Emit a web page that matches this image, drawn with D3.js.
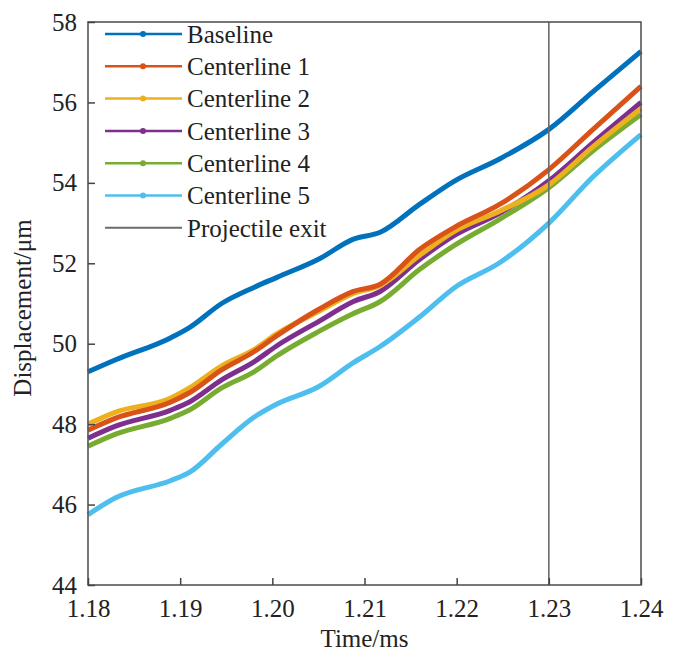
<!DOCTYPE html>
<html>
<head>
<meta charset="utf-8">
<script src="https://cdn.jsdelivr.net/npm/d3@7"></script>
<style>
  body { margin: 0; background: #fff; }
  text { font-family: "Liberation Serif", "Times New Roman", serif; fill: #222; }
</style>
</head>
<body>
<div id="chart"></div>
<script>
// time samples (ms)
const time = [1.18, 1.183, 1.189, 1.191, 1.1945, 1.198, 1.2005, 1.205, 1.2088, 1.2117, 1.216, 1.2198, 1.2247, 1.23, 1.2348, 1.24];

const baseline = [49.3, 49.6, 50.15, 50.4, 51.0, 51.4, 51.65, 52.1, 52.6, 52.77, 53.47, 54.05, 54.6, 55.33, 56.27, 57.27];
const centerline1 = [47.85, 48.15, 48.55, 48.78, 49.35, 49.8, 50.2, 50.85, 51.3, 51.48, 52.35, 52.9, 53.47, 54.33, 55.33, 56.4];
const centerline2 = [48.0, 48.3, 48.65, 48.9, 49.45, 49.85, 50.25, 50.8, 51.25, 51.45, 52.2, 52.8, 53.3, 53.95, 54.9, 55.85];
const centerline3 = [47.65, 47.95, 48.35, 48.55, 49.1, 49.55, 49.95, 50.55, 51.05, 51.3, 52.1, 52.7, 53.25, 54.05, 55.0, 56.0];
const centerline4 = [47.45, 47.75, 48.15, 48.35, 48.9, 49.3, 49.7, 50.3, 50.75, 51.05, 51.85, 52.45, 53.1, 53.88, 54.8, 55.7];
const centerline5 = [45.75, 46.17, 46.6, 46.8, 47.5, 48.17, 48.5, 48.93, 49.53, 49.93, 50.67, 51.4, 52.02, 53.0, 54.15, 55.2];

const names = ["Baseline", "Centerline 1", "Centerline 2", "Centerline 3", "Centerline 4", "Centerline 5"];
const colors = ["#0072BD", "#D95319", "#EDB120", "#7E2F8E", "#77AC30", "#4DBEEE"];
const seriesValues = [baseline, centerline1, centerline2, centerline3, centerline4, centerline5];

const exitTime = 1.23;
const exitLabel = "Projectile exit";

const xTicks = [1.18, 1.19, 1.20, 1.21, 1.22, 1.23, 1.24];
const yTicks = [44, 46, 48, 50, 52, 54, 56, 58];

const width = 673, height = 653;
const plotL = 88, plotR = 641, plotT = 22, plotB = 585;

const svg = d3.select("#chart").append("svg")
  .attr("width", width)
  .attr("height", height);

const x = d3.scaleLinear().domain([1.18, 1.24]).range([plotL, plotR]);
const y = d3.scaleLinear().domain([44, 58]).range([plotB, plotT]);

// series lines, bottom-most first
const line = d3.line()
  .x((d, i) => x(time[i]))
  .y(d => y(d))
  .curve(d3.curveMonotoneX);

const drawOrder = [5, 4, 3, 2, 1, 0];
drawOrder.forEach(k => {
  svg.append("path")
    .datum(seriesValues[k])
    .attr("fill", "none")
    .attr("stroke", colors[k])
    .attr("stroke-width", 5)
    .attr("stroke-linejoin", "round")
    .attr("d", line);
});

// projectile exit line
svg.append("line")
  .attr("x1", x(exitTime)).attr("x2", x(exitTime))
  .attr("y1", plotT).attr("y2", plotB)
  .attr("stroke", "#6b6b6b")
  .attr("stroke-width", 1.6);

// box
svg.append("rect")
  .attr("x", plotL).attr("y", plotT)
  .attr("width", plotR - plotL).attr("height", plotB - plotT)
  .attr("fill", "none")
  .attr("stroke", "#555")
  .attr("stroke-width", 1.6);

// axes, ticks pointing inside
const xAxis = svg.append("g")
  .attr("transform", `translate(0,${plotB})`)
  .call(d3.axisBottom(x).tickValues(xTicks).tickSizeInner(-7).tickSizeOuter(0)
    .tickFormat(d3.format(".2f")));
xAxis.select(".domain").remove();
xAxis.selectAll("line").attr("stroke", "#444").attr("stroke-width", 1.5);
xAxis.selectAll("text")
  .attr("y", 14)
  .attr("dy", "0.71em")
  .style("font-size", "25px")
  .style("font-family", "Liberation Serif, serif")
  .attr("fill", "#222");

const yAxis = svg.append("g")
  .attr("transform", `translate(${plotL},0)`)
  .call(d3.axisLeft(y).tickValues(yTicks).tickSizeInner(-7).tickSizeOuter(0));
yAxis.select(".domain").remove();
yAxis.selectAll("line").attr("stroke", "#444").attr("stroke-width", 1.5);
yAxis.selectAll("text")
  .attr("x", -11)
  .style("font-size", "25px")
  .style("font-family", "Liberation Serif, serif")
  .attr("fill", "#222");

// axis titles
svg.append("text")
  .attr("x", (plotL + plotR) / 2)
  .attr("y", 647)
  .attr("text-anchor", "middle")
  .style("font-size", "25px")
  .text("Time/ms");

svg.append("text")
  .attr("transform", `translate(31,308) rotate(-90)`)
  .attr("text-anchor", "middle")
  .style("font-size", "25px")
  .text("Displacement/μm");

// legend
const legend = svg.append("g");
const rowH = 32.3;
names.concat([exitLabel]).forEach((name, i) => {
  const ly = 34 + i * rowH;
  const isExit = i === names.length;
  legend.append("line")
    .attr("x1", 105).attr("x2", 182)
    .attr("y1", ly).attr("y2", ly)
    .attr("stroke", isExit ? "#6b6b6b" : colors[i])
    .attr("stroke-width", isExit ? 2 : 2.5);
  if (!isExit) {
    legend.append("circle")
      .attr("cx", 143).attr("cy", ly).attr("r", 3)
      .attr("fill", colors[i]);
  }
  legend.append("text")
    .attr("x", 187).attr("y", ly)
    .attr("dy", "0.35em")
    .style("font-size", "25px")
    .text(name);
});
</script>
</body>
</html>
